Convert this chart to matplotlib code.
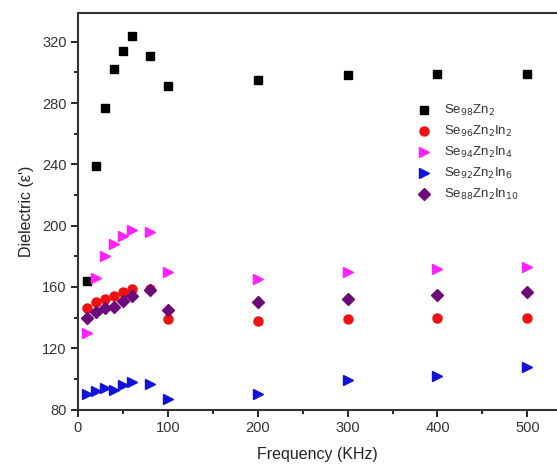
import numpy as np
import matplotlib
matplotlib.use("Agg")
import matplotlib.pyplot as plt
from matplotlib.ticker import MultipleLocator

plt.rcParams['font.family'] = ['Liberation Sans', 'DejaVu Sans']

# frequency (KHz)
freq = [10, 20, 30, 40, 50, 60, 80, 100, 200, 300, 400, 500]

# dielectric constant for each composition
se98 = [164, 239, 277, 302, 314, 324, 311, 291, 295, 298, 299, 299]
se96 = [146, 150, 152, 154, 157, 159, 159, 139, 138, 139, 140, 140]
se94 = [130, 166, 180, 188, 193, 197, 196, 170, 165, 170, 172, 173]
se92 = [90, 92, 94, 93, 96, 98, 97, 87, 90, 99, 102, 108]
se88 = [140, 144, 146, 147, 151, 154, 158, 145, 150, 152, 155, 157]

labels = [r'Se$_{98}$Zn$_2$', r'Se$_{96}$Zn$_2$In$_2$', r'Se$_{94}$Zn$_2$In$_4$',
          r'Se$_{92}$Zn$_2$In$_6$', r'Se$_{88}$Zn$_2$In$_{10}$']

fig = plt.figure(figsize=(5.57, 4.66), dpi=100)
ax = fig.add_axes([0.140, 0.121, 0.860, 0.852])

ax.plot(freq, se98, 's', color='black', ms=6, label=labels[0], zorder=3)
ax.plot(freq, se96, 'o', color='#ee1111', ms=6.5, label=labels[1], zorder=3)
ax.plot(freq, se94, '>', color='#ff22ff', ms=7.5, label=labels[2], zorder=3)
ax.plot(freq, se92, '>', color='#1111dd', ms=7.5, label=labels[3], zorder=3)
ax.plot(freq, se88, 'D', color='#6c0a7a', ms=6, label=labels[4], zorder=4)

ax.set_xlim(0, 533)
ax.set_ylim(80, 339)
ax.xaxis.set_major_locator(MultipleLocator(100))
ax.xaxis.set_minor_locator(MultipleLocator(50))
ax.yaxis.set_major_locator(MultipleLocator(40))
ax.yaxis.set_minor_locator(MultipleLocator(20))
ax.tick_params(which='major', direction='out', length=5, width=1.2, labelsize=10.5,
               labelcolor='#333333', pad=3)
ax.tick_params(which='minor', direction='out', length=3, width=1.2)
ax.spines['right'].set_visible(False)
for s in ['left', 'bottom', 'top']:
    ax.spines[s].set_linewidth(1.5)
    ax.spines[s].set_color('#333333')

ax.set_xlabel('Frequency (KHz)', fontsize=11.5, color='#222222', labelpad=9)
ax.set_ylabel("Dielectric (ε')", fontsize=11.5, color='#222222', labelpad=6)

ax.legend(loc='upper left', bbox_to_anchor=(0.675, 0.795), frameon=False,
          fontsize=9.5, handletextpad=0.5, labelspacing=0.45, labelcolor='#333333',
          borderpad=0.2)

fig.savefig('out.png', dpi=100)
